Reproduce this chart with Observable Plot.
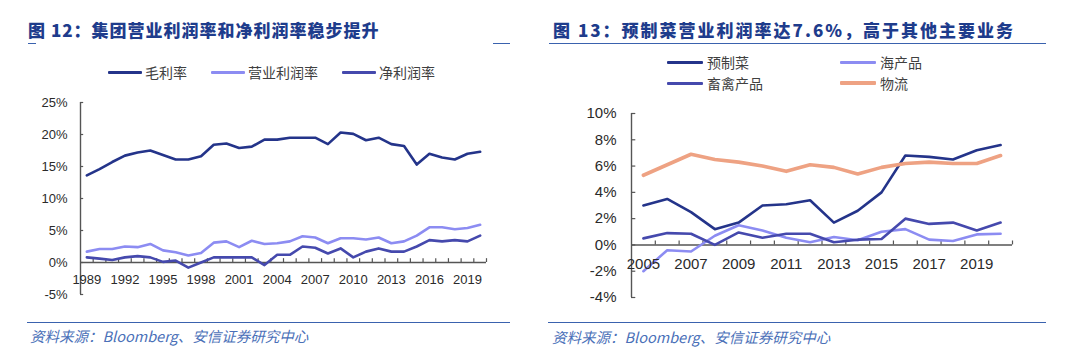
<!DOCTYPE html>
<html><head><meta charset="utf-8">
<script src="https://cdn.jsdelivr.net/npm/d3@7"></script>
<script src="https://cdn.jsdelivr.net/npm/@observablehq/plot@0.6"></script>
<style>
html,body{margin:0;padding:0;background:#fff;}
body{width:1080px;height:361px;overflow:hidden;position:relative;font-family:"Liberation Sans",Arial,sans-serif;}
.abs{position:absolute;}
.title{font-family:"Noto Sans CJK SC",sans-serif;font-weight:900;font-size:17px;line-height:20px;color:#1e3c8c;white-space:nowrap;}
.rule{position:absolute;height:0;border-top:1.5px solid #3a62ae;}
.caption{font-family:"Noto Sans CJK SC",sans-serif;font-style:italic;font-size:14.5px;line-height:18px;color:#4a70b8;white-space:nowrap;}
.legend{position:absolute;font-family:"Noto Sans CJK SC",sans-serif;font-size:14px;line-height:18px;color:#404040;white-space:nowrap;}
.item{display:flex;align-items:center;}
.swatch{display:inline-block;height:3px;border-radius:1px;}
</style></head><body>
<script>
// ---------- Chart 12 data ----------
const years12 = [1989,1990,1991,1992,1993,1994,1995,1996,1997,1998,1999,2000,2001,2002,2003,2004,2005,2006,2007,2008,2009,2010,2011,2012,2013,2014,2015,2016,2017,2018,2019,2020];
const grossMargin = [13.6,14.6,15.7,16.7,17.2,17.5,16.8,16.1,16.1,16.6,18.4,18.6,17.9,18.1,19.2,19.2,19.5,19.5,19.5,18.5,20.3,20.1,19.1,19.5,18.5,18.2,15.3,17.0,16.4,16.1,17.0,17.3];
const opMargin = [1.7,2.1,2.1,2.5,2.4,2.9,1.9,1.6,1.1,1.5,3.1,3.3,2.4,3.4,2.9,3.0,3.3,4.1,3.9,3.0,3.8,3.8,3.6,3.9,3.0,3.3,4.2,5.5,5.5,5.2,5.4,5.9];
const netMargin = [0.8,0.6,0.4,0.8,1.0,0.8,0.1,0.3,-0.8,0.0,0.8,0.8,0.8,0.8,-0.4,1.2,1.2,2.5,2.3,1.4,2.2,0.8,1.7,2.2,1.7,1.7,2.5,3.5,3.3,3.5,3.3,4.2];
const names12 = ["毛利率","营业利润率","净利润率"];
const colors12 = ["#24348a","#8c8cf2","#4549ad"];
const xLabels12 = [1989,1992,1995,1998,2001,2004,2007,2010,2013,2016,2019];
const yTicks12 = [-5,0,5,10,15,20,25];

// ---------- Chart 13 data ----------
const years13 = [2005,2006,2007,2008,2009,2010,2011,2012,2013,2014,2015,2016,2017,2018,2019,2020];
const prepared = [3.0,3.5,2.5,1.2,1.7,3.0,3.1,3.4,1.7,2.6,4.0,6.8,6.7,6.5,7.2,7.6];
const seafood = [-2.0,-0.4,-0.5,0.7,1.5,1.1,0.55,0.2,0.6,0.35,1.0,1.2,0.4,0.3,0.8,0.85];
const livestock = [0.5,0.9,0.85,0.0,0.95,0.55,0.85,0.85,0.2,0.4,0.45,2.0,1.6,1.7,1.1,1.7];
const logistics = [5.3,6.1,6.9,6.5,6.3,6.0,5.6,6.1,5.9,5.4,5.9,6.2,6.3,6.2,6.2,6.8];
const names13 = ["预制菜","海产品","畜禽产品","物流"];
const colors13 = ["#24348a","#8c8cf2","#4549ad","#eea283"];
const xLabels13 = [2005,2007,2009,2011,2013,2015,2017,2019];
const yTicks13 = [-4,-2,0,2,4,6,8,10];

const caption = "资料来源：Bloomberg、安信证券研究中心";
const title12 = "图 12：集团营业利润率和净利润率稳步提升";
const title13 = "图 13：预制菜营业利润率达7.6%，高于其他主要业务";

function el(tag, cls, style, text){
  const e = document.createElement(tag);
  if (cls) e.className = cls;
  Object.assign(e.style, style || {});
  if (text != null) e.textContent = text;
  document.body.appendChild(e);
  return e;
}

function long(years, seriesArr, names){
  const rows = [];
  seriesArr.forEach((s, i) => s.forEach((v, j) => rows.push({year: years[j], value: v, series: names[i]})));
  return rows;
}

function chart(opts){
  const {years, series, names, colors, xLabels, yTicks, width, height, mL, mR, mT, mB, fs, labelDy, yDx, tickUp, yTickLen, widths} = opts;
  const x0 = years[0] - 0.5, x1 = years[years.length-1] + 0.5;
  const bounds = years.map(y => y + 0.5);
  const data = long(years, series, names);
  const axisColor = "#555";
  return Plot.plot({
    width, height, marginLeft: mL, marginRight: mR, marginTop: mT, marginBottom: mB,
    style: {fontFamily: "'Liberation Sans', Arial, sans-serif", background: "transparent", overflow: "visible"},
    x: {domain: [x0, x1], axis: null},
    y: {domain: [yTicks[0], yTicks[yTicks.length-1]], axis: null},
    color: {domain: names, range: colors},
    marks: [
      Plot.ruleX([x0], {y1: yTicks[0], y2: yTicks[yTicks.length-1], stroke: axisColor, strokeWidth: 1.4}),
      Plot.ruleY(yTicks, {x1: x0, x2: x0 + yTickLen, stroke: axisColor, strokeWidth: 1.2}),
      Plot.ruleY([0], {x1: x0, x2: x1, stroke: axisColor, strokeWidth: 1.4}),
      Plot.ruleX(bounds, {y1: 0, y2: tickUp, stroke: axisColor, strokeWidth: 1.2}),
      ...names.map((n, i) => Plot.line(data.filter(d => d.series === n), {x: "year", y: "value", stroke: colors[i], strokeWidth: widths[i], strokeLinejoin: "round", strokeLinecap: "round"})),
      Plot.text(xLabels, {x: d => d, y: 0, dy: labelDy, text: d => String(d), fontSize: fs, fill: "#2a2a2a"}),
      Plot.text(yTicks, {x: x0, y: d => d, dx: yDx, text: d => d + "%", textAnchor: "end", fontSize: fs, fill: "#2a2a2a"})
    ]
  });
}

// ---------- Titles & rules ----------
el("div", "title abs", {left: "28px", top: "20px", letterSpacing: "1px"}, title12);
el("div", "title abs", {left: "553px", top: "20px", letterSpacing: "2px"}, title13);
el("div", "rule", {left: "28px", top: "42.5px", width: "8px"});
el("div", "rule", {left: "493px", top: "42.5px", width: "17px"});
el("div", "rule", {left: "549px", top: "42.5px", width: "497px"});
el("div", "rule", {left: "27px", top: "322px", width: "483px"});
el("div", "rule", {left: "548px", top: "322px", width: "498px"});
el("div", "caption abs", {left: "30px", top: "327px"}, caption);
el("div", "caption abs", {left: "552px", top: "328px"}, caption);

// ---------- Legends ----------
const leg12 = el("div", "legend", {left: "108px", top: "63px", display: "flex", gap: "24px"});
names12.forEach((n, i) => {
  const it = document.createElement("div"); it.className = "item";
  const sw = document.createElement("span"); sw.className = "swatch"; sw.style.width = "34px"; sw.style.background = colors12[i]; sw.style.marginRight = "3px";
  const tx = document.createElement("span"); tx.textContent = n;
  it.append(sw, tx); leg12.appendChild(it);
});
const leg13 = el("div", "legend", {left: "667px", top: "53px", display: "grid", gridTemplateColumns: "173px auto", rowGap: "3px"});
names13.forEach((n, i) => {
  const it = document.createElement("div"); it.className = "item";
  const sw = document.createElement("span"); sw.className = "swatch"; sw.style.width = "36px"; sw.style.background = colors13[i]; sw.style.marginRight = "4px";
  if (i === 3) sw.style.height = "4px";
  const tx = document.createElement("span"); tx.textContent = n;
  it.append(sw, tx); leg13.appendChild(it);
});

// ---------- Plots ----------
const p12 = chart({years: years12, series: [grossMargin, opMargin, netMargin], names: names12, colors: colors12,
  xLabels: xLabels12, yTicks: yTicks12, width: 540, height: 220, mL: 80, mR: 54, mT: 12, mB: 16,
  fs: 13, labelDy: 17, yDx: -13, tickUp: 0.6, yTickLen: 0.25, widths: [2.6, 2.6, 2.6]});
const w12 = el("div", "abs", {left: "0px", top: "90px"}); w12.appendChild(p12);

const p13 = chart({years: years13, series: [prepared, seafood, livestock, logistics], names: names13, colors: colors13,
  xLabels: xLabels13, yTicks: yTicks13, width: 540, height: 210, mL: 91, mR: 68, mT: 13, mB: 13,
  fs: 15, labelDy: 19, yDx: -15, tickUp: 0.3, yTickLen: 0.18, widths: [2.6, 2.6, 2.6, 3.6]});
const w13 = el("div", "abs", {left: "540px", top: "100px"}); w13.appendChild(p13);
</script>
</body></html>
